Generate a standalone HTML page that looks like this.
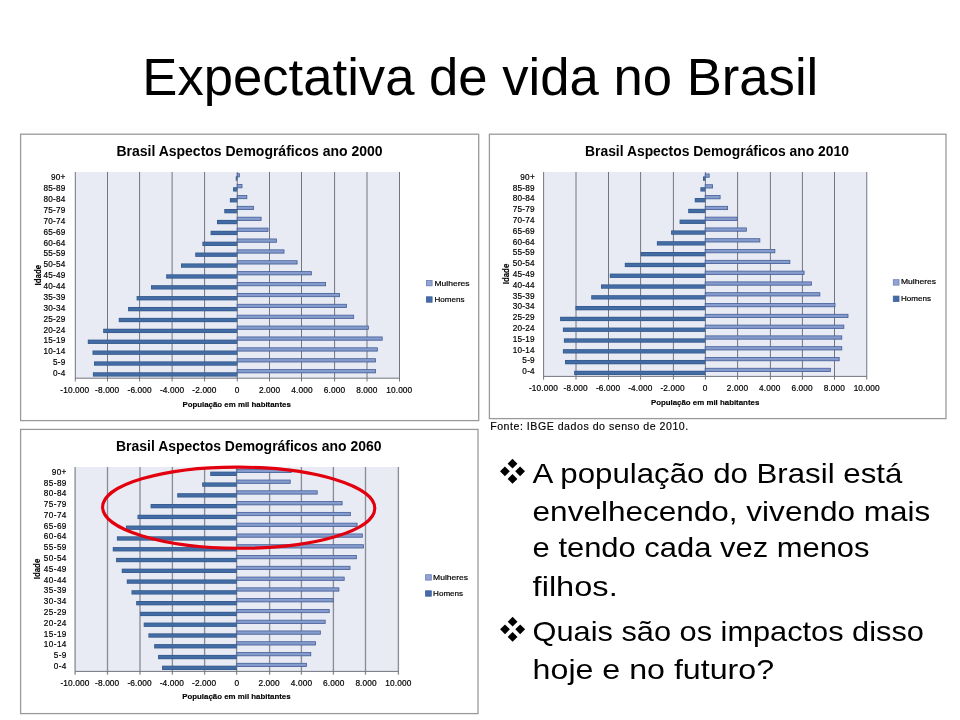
<!DOCTYPE html>
<html lang="pt"><head><meta charset="utf-8"><title>Expectativa de vida no Brasil</title>
<style>html,body{margin:0;padding:0;background:#fff;}body{width:960px;height:720px;overflow:hidden;font-family:"Liberation Sans",sans-serif;}svg{display:block;will-change:transform;}text{font-family:"Liberation Sans",sans-serif;fill:#000;}</style></head><body>
<svg width="960" height="720" viewBox="0 0 960 720">
<defs><linearGradient id="lg" x1="0" y1="0" x2="0" y2="1"><stop offset="0" stop-color="#8ba1d4"/><stop offset="1" stop-color="#8295c5"/></linearGradient></defs>
<rect width="960" height="720" fill="#fff"/>
<text x="142.3" y="95.2" font-size="52.4" textLength="676" lengthAdjust="spacingAndGlyphs">Expectativa de vida no Brasil</text>
<g id="chart2000">
<rect x="20.6" y="134.2" width="458.1" height="286.4" fill="#fff" stroke="#9a9a9a" stroke-width="1.3"/>
<rect x="75.1" y="172.0" width="324.2" height="206.2" fill="#e8ebf4"/>
<line x1="75.30" y1="172.0" x2="75.30" y2="381.5" stroke="#72767f" stroke-width="1"/>
<line x1="107.50" y1="172.0" x2="107.50" y2="381.5" stroke="#72767f" stroke-width="1"/>
<line x1="139.60" y1="172.0" x2="139.60" y2="381.5" stroke="#72767f" stroke-width="1"/>
<line x1="172.10" y1="172.0" x2="172.10" y2="381.5" stroke="#72767f" stroke-width="1"/>
<line x1="204.60" y1="172.0" x2="204.60" y2="381.5" stroke="#72767f" stroke-width="1"/>
<line x1="237.25" y1="172.0" x2="237.25" y2="381.5" stroke="#72767f" stroke-width="1"/>
<line x1="269.50" y1="172.0" x2="269.50" y2="381.5" stroke="#72767f" stroke-width="1"/>
<line x1="301.50" y1="172.0" x2="301.50" y2="381.5" stroke="#72767f" stroke-width="1"/>
<line x1="334.60" y1="172.0" x2="334.60" y2="381.5" stroke="#72767f" stroke-width="1"/>
<line x1="367.00" y1="172.0" x2="367.00" y2="381.5" stroke="#72767f" stroke-width="1"/>
<line x1="399.50" y1="172.0" x2="399.50" y2="381.5" stroke="#72767f" stroke-width="1"/>
<rect x="235.75" y="176.35" width="1.45" height="4.3" fill="#325789"/>
<rect x="236.35" y="177.05" width="0.85" height="2.9" fill="#436ca5"/>
<rect x="237.20" y="173.65" width="2.15" height="3.3" fill="url(#lg)" stroke="#415d96" stroke-width="0.8"/>
<rect x="233.10" y="187.23" width="4.10" height="4.3" fill="#325789"/>
<rect x="233.70" y="187.94" width="3.50" height="2.9" fill="#436ca5"/>
<rect x="237.20" y="184.53" width="4.80" height="3.3" fill="url(#lg)" stroke="#415d96" stroke-width="0.8"/>
<rect x="229.90" y="198.12" width="7.30" height="4.3" fill="#325789"/>
<rect x="230.50" y="198.82" width="6.70" height="2.9" fill="#436ca5"/>
<rect x="237.20" y="195.42" width="9.65" height="3.3" fill="url(#lg)" stroke="#415d96" stroke-width="0.8"/>
<rect x="224.30" y="209.00" width="12.90" height="4.3" fill="#325789"/>
<rect x="224.90" y="209.71" width="12.30" height="2.9" fill="#436ca5"/>
<rect x="237.20" y="206.31" width="16.40" height="3.3" fill="url(#lg)" stroke="#415d96" stroke-width="0.8"/>
<rect x="217.00" y="219.89" width="20.20" height="4.3" fill="#325789"/>
<rect x="217.60" y="220.59" width="19.60" height="2.9" fill="#436ca5"/>
<rect x="237.20" y="217.19" width="23.90" height="3.3" fill="url(#lg)" stroke="#415d96" stroke-width="0.8"/>
<rect x="210.60" y="230.78" width="26.60" height="4.3" fill="#325789"/>
<rect x="211.20" y="231.48" width="26.00" height="2.9" fill="#436ca5"/>
<rect x="237.20" y="228.08" width="30.80" height="3.3" fill="url(#lg)" stroke="#415d96" stroke-width="0.8"/>
<rect x="202.40" y="241.66" width="34.80" height="4.3" fill="#325789"/>
<rect x="203.00" y="242.36" width="34.20" height="2.9" fill="#436ca5"/>
<rect x="237.20" y="238.96" width="39.30" height="3.3" fill="url(#lg)" stroke="#415d96" stroke-width="0.8"/>
<rect x="195.25" y="252.54" width="41.95" height="4.3" fill="#325789"/>
<rect x="195.85" y="253.25" width="41.35" height="2.9" fill="#436ca5"/>
<rect x="237.20" y="249.84" width="46.80" height="3.3" fill="url(#lg)" stroke="#415d96" stroke-width="0.8"/>
<rect x="181.00" y="263.43" width="56.20" height="4.3" fill="#325789"/>
<rect x="181.60" y="264.13" width="55.60" height="2.9" fill="#436ca5"/>
<rect x="237.20" y="260.73" width="59.90" height="3.3" fill="url(#lg)" stroke="#415d96" stroke-width="0.8"/>
<rect x="166.20" y="274.32" width="71.00" height="4.3" fill="#325789"/>
<rect x="166.80" y="275.02" width="70.40" height="2.9" fill="#436ca5"/>
<rect x="237.20" y="271.62" width="74.15" height="3.3" fill="url(#lg)" stroke="#415d96" stroke-width="0.8"/>
<rect x="151.00" y="285.20" width="86.20" height="4.3" fill="#325789"/>
<rect x="151.60" y="285.90" width="85.60" height="2.9" fill="#436ca5"/>
<rect x="237.20" y="282.50" width="88.40" height="3.3" fill="url(#lg)" stroke="#415d96" stroke-width="0.8"/>
<rect x="136.60" y="296.09" width="100.60" height="4.3" fill="#325789"/>
<rect x="137.20" y="296.79" width="100.00" height="2.9" fill="#436ca5"/>
<rect x="237.20" y="293.39" width="102.30" height="3.3" fill="url(#lg)" stroke="#415d96" stroke-width="0.8"/>
<rect x="128.10" y="306.97" width="109.10" height="4.3" fill="#325789"/>
<rect x="128.70" y="307.67" width="108.50" height="2.9" fill="#436ca5"/>
<rect x="237.20" y="304.27" width="109.20" height="3.3" fill="url(#lg)" stroke="#415d96" stroke-width="0.8"/>
<rect x="118.75" y="317.86" width="118.45" height="4.3" fill="#325789"/>
<rect x="119.35" y="318.56" width="117.85" height="2.9" fill="#436ca5"/>
<rect x="237.20" y="315.16" width="116.50" height="3.3" fill="url(#lg)" stroke="#415d96" stroke-width="0.8"/>
<rect x="103.20" y="328.74" width="134.00" height="4.3" fill="#325789"/>
<rect x="103.80" y="329.44" width="133.40" height="2.9" fill="#436ca5"/>
<rect x="237.20" y="326.04" width="131.15" height="3.3" fill="url(#lg)" stroke="#415d96" stroke-width="0.8"/>
<rect x="87.80" y="339.62" width="149.40" height="4.3" fill="#325789"/>
<rect x="88.40" y="340.32" width="148.80" height="2.9" fill="#436ca5"/>
<rect x="237.20" y="336.93" width="145.00" height="3.3" fill="url(#lg)" stroke="#415d96" stroke-width="0.8"/>
<rect x="92.50" y="350.51" width="144.70" height="4.3" fill="#325789"/>
<rect x="93.10" y="351.21" width="144.10" height="2.9" fill="#436ca5"/>
<rect x="237.20" y="347.81" width="140.15" height="3.3" fill="url(#lg)" stroke="#415d96" stroke-width="0.8"/>
<rect x="94.00" y="361.39" width="143.20" height="4.3" fill="#325789"/>
<rect x="94.60" y="362.09" width="142.60" height="2.9" fill="#436ca5"/>
<rect x="237.20" y="358.70" width="138.30" height="3.3" fill="url(#lg)" stroke="#415d96" stroke-width="0.8"/>
<rect x="92.90" y="372.28" width="144.30" height="4.3" fill="#325789"/>
<rect x="93.50" y="372.98" width="143.70" height="2.9" fill="#436ca5"/>
<rect x="237.20" y="369.58" width="138.30" height="3.3" fill="url(#lg)" stroke="#415d96" stroke-width="0.8"/>
<line x1="75.1" y1="378.2" x2="399.3" y2="378.2" stroke="#72767f" stroke-width="1"/>
<text x="65.50" y="180.20" font-size="8.2" letter-spacing="0.2" text-anchor="end" stroke="#000" stroke-width="0.2">90+</text>
<text x="65.50" y="191.09" font-size="8.2" letter-spacing="0.2" text-anchor="end" stroke="#000" stroke-width="0.2">85-89</text>
<text x="65.50" y="201.97" font-size="8.2" letter-spacing="0.2" text-anchor="end" stroke="#000" stroke-width="0.2">80-84</text>
<text x="65.50" y="212.86" font-size="8.2" letter-spacing="0.2" text-anchor="end" stroke="#000" stroke-width="0.2">75-79</text>
<text x="65.50" y="223.74" font-size="8.2" letter-spacing="0.2" text-anchor="end" stroke="#000" stroke-width="0.2">70-74</text>
<text x="65.50" y="234.63" font-size="8.2" letter-spacing="0.2" text-anchor="end" stroke="#000" stroke-width="0.2">65-69</text>
<text x="65.50" y="245.51" font-size="8.2" letter-spacing="0.2" text-anchor="end" stroke="#000" stroke-width="0.2">60-64</text>
<text x="65.50" y="256.39" font-size="8.2" letter-spacing="0.2" text-anchor="end" stroke="#000" stroke-width="0.2">55-59</text>
<text x="65.50" y="267.28" font-size="8.2" letter-spacing="0.2" text-anchor="end" stroke="#000" stroke-width="0.2">50-54</text>
<text x="65.50" y="278.16" font-size="8.2" letter-spacing="0.2" text-anchor="end" stroke="#000" stroke-width="0.2">45-49</text>
<text x="65.50" y="289.05" font-size="8.2" letter-spacing="0.2" text-anchor="end" stroke="#000" stroke-width="0.2">40-44</text>
<text x="65.50" y="299.94" font-size="8.2" letter-spacing="0.2" text-anchor="end" stroke="#000" stroke-width="0.2">35-39</text>
<text x="65.50" y="310.82" font-size="8.2" letter-spacing="0.2" text-anchor="end" stroke="#000" stroke-width="0.2">30-34</text>
<text x="65.50" y="321.70" font-size="8.2" letter-spacing="0.2" text-anchor="end" stroke="#000" stroke-width="0.2">25-29</text>
<text x="65.50" y="332.59" font-size="8.2" letter-spacing="0.2" text-anchor="end" stroke="#000" stroke-width="0.2">20-24</text>
<text x="65.50" y="343.48" font-size="8.2" letter-spacing="0.2" text-anchor="end" stroke="#000" stroke-width="0.2">15-19</text>
<text x="65.50" y="354.36" font-size="8.2" letter-spacing="0.2" text-anchor="end" stroke="#000" stroke-width="0.2">10-14</text>
<text x="65.50" y="365.25" font-size="8.2" letter-spacing="0.2" text-anchor="end" stroke="#000" stroke-width="0.2">5-9</text>
<text x="65.50" y="376.13" font-size="8.2" letter-spacing="0.2" text-anchor="end" stroke="#000" stroke-width="0.2">0-4</text>
<text x="74.80" y="392.8" font-size="8.3" letter-spacing="0.12" text-anchor="middle" stroke="#000" stroke-width="0.2">-10.000</text>
<text x="107.22" y="392.8" font-size="8.3" letter-spacing="0.12" text-anchor="middle" stroke="#000" stroke-width="0.2">-8.000</text>
<text x="139.64" y="392.8" font-size="8.3" letter-spacing="0.12" text-anchor="middle" stroke="#000" stroke-width="0.2">-6.000</text>
<text x="172.06" y="392.8" font-size="8.3" letter-spacing="0.12" text-anchor="middle" stroke="#000" stroke-width="0.2">-4.000</text>
<text x="204.48" y="392.8" font-size="8.3" letter-spacing="0.12" text-anchor="middle" stroke="#000" stroke-width="0.2">-2.000</text>
<text x="237.20" y="392.8" font-size="8.3" letter-spacing="0.12" text-anchor="middle" stroke="#000" stroke-width="0.2">0</text>
<text x="269.62" y="392.8" font-size="8.3" letter-spacing="0.12" text-anchor="middle" stroke="#000" stroke-width="0.2">2.000</text>
<text x="302.04" y="392.8" font-size="8.3" letter-spacing="0.12" text-anchor="middle" stroke="#000" stroke-width="0.2">4.000</text>
<text x="334.46" y="392.8" font-size="8.3" letter-spacing="0.12" text-anchor="middle" stroke="#000" stroke-width="0.2">6.000</text>
<text x="366.88" y="392.8" font-size="8.3" letter-spacing="0.12" text-anchor="middle" stroke="#000" stroke-width="0.2">8.000</text>
<text x="399.30" y="392.8" font-size="8.3" letter-spacing="0.12" text-anchor="middle" stroke="#000" stroke-width="0.2">10.000</text>
<text x="116.4" y="156.0" font-size="14.1" font-weight="bold" textLength="266.2" lengthAdjust="spacingAndGlyphs">Brasil Aspectos Demográficos ano 2000</text>
<text x="182.4" y="407.2" font-size="8" font-weight="bold" textLength="108.4" lengthAdjust="spacingAndGlyphs" stroke="#000" stroke-width="0.15">População em mil habitantes</text>
<text transform="translate(40.6,285.5) rotate(-90)" font-size="8.6" font-weight="bold" stroke="#000" stroke-width="0.15" textLength="20.6" lengthAdjust="spacingAndGlyphs">Idade</text>
<rect x="426.4" y="280.4" width="5.7" height="5.4" fill="#93a3d6" stroke="#6a7fb3" stroke-width="0.8"/>
<text x="434.5" y="285.9" font-size="8" textLength="35" lengthAdjust="spacingAndGlyphs" stroke="#000" stroke-width="0.2">Mulheres</text>
<rect x="426.4" y="296.79999999999995" width="5.7" height="5.4" fill="#466aa8" stroke="#3c5f9a" stroke-width="0.8"/>
<text x="434.5" y="302.3" font-size="8" textLength="30" lengthAdjust="spacingAndGlyphs" stroke="#000" stroke-width="0.2">Homens</text>
</g>
<g id="chart2010">
<rect x="489.4" y="134.2" width="456.6" height="284.4" fill="#fff" stroke="#9a9a9a" stroke-width="1.3"/>
<rect x="543.7" y="172.0" width="323.0" height="204.4" fill="#e8ebf4"/>
<line x1="543.60" y1="172.0" x2="543.60" y2="379.7" stroke="#72767f" stroke-width="1"/>
<line x1="576.00" y1="172.0" x2="576.00" y2="379.7" stroke="#72767f" stroke-width="1"/>
<line x1="608.50" y1="172.0" x2="608.50" y2="379.7" stroke="#72767f" stroke-width="1"/>
<line x1="640.60" y1="172.0" x2="640.60" y2="379.7" stroke="#72767f" stroke-width="1"/>
<line x1="673.40" y1="172.0" x2="673.40" y2="379.7" stroke="#72767f" stroke-width="1"/>
<line x1="705.40" y1="172.0" x2="705.40" y2="379.7" stroke="#72767f" stroke-width="1"/>
<line x1="737.60" y1="172.0" x2="737.60" y2="379.7" stroke="#72767f" stroke-width="1"/>
<line x1="770.40" y1="172.0" x2="770.40" y2="379.7" stroke="#72767f" stroke-width="1"/>
<line x1="802.40" y1="172.0" x2="802.40" y2="379.7" stroke="#72767f" stroke-width="1"/>
<line x1="834.50" y1="172.0" x2="834.50" y2="379.7" stroke="#72767f" stroke-width="1"/>
<line x1="866.75" y1="172.0" x2="866.75" y2="379.7" stroke="#72767f" stroke-width="1"/>
<rect x="703.00" y="176.45" width="2.20" height="4.3" fill="#325789"/>
<rect x="703.60" y="177.15" width="1.60" height="2.9" fill="#436ca5"/>
<rect x="705.20" y="173.95" width="4.00" height="3.3" fill="url(#lg)" stroke="#415d96" stroke-width="0.8"/>
<rect x="700.40" y="187.24" width="4.80" height="4.3" fill="#325789"/>
<rect x="701.00" y="187.94" width="4.20" height="2.9" fill="#436ca5"/>
<rect x="705.20" y="184.74" width="7.40" height="3.3" fill="url(#lg)" stroke="#415d96" stroke-width="0.8"/>
<rect x="694.75" y="198.04" width="10.45" height="4.3" fill="#325789"/>
<rect x="695.35" y="198.74" width="9.85" height="2.9" fill="#436ca5"/>
<rect x="705.20" y="195.54" width="14.90" height="3.3" fill="url(#lg)" stroke="#415d96" stroke-width="0.8"/>
<rect x="688.20" y="208.83" width="17.00" height="4.3" fill="#325789"/>
<rect x="688.80" y="209.53" width="16.40" height="2.9" fill="#436ca5"/>
<rect x="705.20" y="206.33" width="22.40" height="3.3" fill="url(#lg)" stroke="#415d96" stroke-width="0.8"/>
<rect x="679.60" y="219.63" width="25.60" height="4.3" fill="#325789"/>
<rect x="680.20" y="220.33" width="25.00" height="2.9" fill="#436ca5"/>
<rect x="705.20" y="217.13" width="32.00" height="3.3" fill="url(#lg)" stroke="#415d96" stroke-width="0.8"/>
<rect x="671.10" y="230.42" width="34.10" height="4.3" fill="#325789"/>
<rect x="671.70" y="231.12" width="33.50" height="2.9" fill="#436ca5"/>
<rect x="705.20" y="227.92" width="41.15" height="3.3" fill="url(#lg)" stroke="#415d96" stroke-width="0.8"/>
<rect x="656.90" y="241.22" width="48.30" height="4.3" fill="#325789"/>
<rect x="657.50" y="241.92" width="47.70" height="2.9" fill="#436ca5"/>
<rect x="705.20" y="238.72" width="54.65" height="3.3" fill="url(#lg)" stroke="#415d96" stroke-width="0.8"/>
<rect x="640.75" y="252.01" width="64.45" height="4.3" fill="#325789"/>
<rect x="641.35" y="252.72" width="63.85" height="2.9" fill="#436ca5"/>
<rect x="705.20" y="249.51" width="69.65" height="3.3" fill="url(#lg)" stroke="#415d96" stroke-width="0.8"/>
<rect x="624.80" y="262.81" width="80.40" height="4.3" fill="#325789"/>
<rect x="625.40" y="263.51" width="79.80" height="2.9" fill="#436ca5"/>
<rect x="705.20" y="260.31" width="84.65" height="3.3" fill="url(#lg)" stroke="#415d96" stroke-width="0.8"/>
<rect x="609.80" y="273.61" width="95.40" height="4.3" fill="#325789"/>
<rect x="610.40" y="274.31" width="94.80" height="2.9" fill="#436ca5"/>
<rect x="705.20" y="271.11" width="98.90" height="3.3" fill="url(#lg)" stroke="#415d96" stroke-width="0.8"/>
<rect x="601.00" y="284.40" width="104.20" height="4.3" fill="#325789"/>
<rect x="601.60" y="285.10" width="103.60" height="2.9" fill="#436ca5"/>
<rect x="705.20" y="281.90" width="106.20" height="3.3" fill="url(#lg)" stroke="#415d96" stroke-width="0.8"/>
<rect x="591.25" y="295.20" width="113.95" height="4.3" fill="#325789"/>
<rect x="591.85" y="295.90" width="113.35" height="2.9" fill="#436ca5"/>
<rect x="705.20" y="292.70" width="114.65" height="3.3" fill="url(#lg)" stroke="#415d96" stroke-width="0.8"/>
<rect x="575.50" y="305.99" width="129.70" height="4.3" fill="#325789"/>
<rect x="576.10" y="306.69" width="129.10" height="2.9" fill="#436ca5"/>
<rect x="705.20" y="303.49" width="129.80" height="3.3" fill="url(#lg)" stroke="#415d96" stroke-width="0.8"/>
<rect x="560.10" y="316.79" width="145.10" height="4.3" fill="#325789"/>
<rect x="560.70" y="317.49" width="144.50" height="2.9" fill="#436ca5"/>
<rect x="705.20" y="314.29" width="142.80" height="3.3" fill="url(#lg)" stroke="#415d96" stroke-width="0.8"/>
<rect x="562.90" y="327.58" width="142.30" height="4.3" fill="#325789"/>
<rect x="563.50" y="328.28" width="141.70" height="2.9" fill="#436ca5"/>
<rect x="705.20" y="325.08" width="138.65" height="3.3" fill="url(#lg)" stroke="#415d96" stroke-width="0.8"/>
<rect x="563.90" y="338.38" width="141.30" height="4.3" fill="#325789"/>
<rect x="564.50" y="339.07" width="140.70" height="2.9" fill="#436ca5"/>
<rect x="705.20" y="335.88" width="136.60" height="3.3" fill="url(#lg)" stroke="#415d96" stroke-width="0.8"/>
<rect x="562.90" y="349.17" width="142.30" height="4.3" fill="#325789"/>
<rect x="563.50" y="349.87" width="141.70" height="2.9" fill="#436ca5"/>
<rect x="705.20" y="346.67" width="136.60" height="3.3" fill="url(#lg)" stroke="#415d96" stroke-width="0.8"/>
<rect x="565.00" y="359.97" width="140.20" height="4.3" fill="#325789"/>
<rect x="565.60" y="360.67" width="139.60" height="2.9" fill="#436ca5"/>
<rect x="705.20" y="357.47" width="134.00" height="3.3" fill="url(#lg)" stroke="#415d96" stroke-width="0.8"/>
<rect x="574.20" y="370.76" width="131.00" height="4.3" fill="#325789"/>
<rect x="574.80" y="371.46" width="130.40" height="2.9" fill="#436ca5"/>
<rect x="705.20" y="368.26" width="125.15" height="3.3" fill="url(#lg)" stroke="#415d96" stroke-width="0.8"/>
<line x1="543.7" y1="376.4" x2="866.7" y2="376.4" stroke="#72767f" stroke-width="1"/>
<text x="534.95" y="179.80" font-size="8.2" letter-spacing="0.25" text-anchor="end" stroke="#000" stroke-width="0.2">90+</text>
<text x="534.95" y="190.59" font-size="8.2" letter-spacing="0.25" text-anchor="end" stroke="#000" stroke-width="0.2">85-89</text>
<text x="534.95" y="201.39" font-size="8.2" letter-spacing="0.25" text-anchor="end" stroke="#000" stroke-width="0.2">80-84</text>
<text x="534.95" y="212.19" font-size="8.2" letter-spacing="0.25" text-anchor="end" stroke="#000" stroke-width="0.2">75-79</text>
<text x="534.95" y="222.98" font-size="8.2" letter-spacing="0.25" text-anchor="end" stroke="#000" stroke-width="0.2">70-74</text>
<text x="534.95" y="233.78" font-size="8.2" letter-spacing="0.25" text-anchor="end" stroke="#000" stroke-width="0.2">65-69</text>
<text x="534.95" y="244.57" font-size="8.2" letter-spacing="0.25" text-anchor="end" stroke="#000" stroke-width="0.2">60-64</text>
<text x="534.95" y="255.37" font-size="8.2" letter-spacing="0.25" text-anchor="end" stroke="#000" stroke-width="0.2">55-59</text>
<text x="534.95" y="266.16" font-size="8.2" letter-spacing="0.25" text-anchor="end" stroke="#000" stroke-width="0.2">50-54</text>
<text x="534.95" y="276.95" font-size="8.2" letter-spacing="0.25" text-anchor="end" stroke="#000" stroke-width="0.2">45-49</text>
<text x="534.95" y="287.75" font-size="8.2" letter-spacing="0.25" text-anchor="end" stroke="#000" stroke-width="0.2">40-44</text>
<text x="534.95" y="298.55" font-size="8.2" letter-spacing="0.25" text-anchor="end" stroke="#000" stroke-width="0.2">35-39</text>
<text x="534.95" y="309.34" font-size="8.2" letter-spacing="0.25" text-anchor="end" stroke="#000" stroke-width="0.2">30-34</text>
<text x="534.95" y="320.13" font-size="8.2" letter-spacing="0.25" text-anchor="end" stroke="#000" stroke-width="0.2">25-29</text>
<text x="534.95" y="330.93" font-size="8.2" letter-spacing="0.25" text-anchor="end" stroke="#000" stroke-width="0.2">20-24</text>
<text x="534.95" y="341.72" font-size="8.2" letter-spacing="0.25" text-anchor="end" stroke="#000" stroke-width="0.2">15-19</text>
<text x="534.95" y="352.52" font-size="8.2" letter-spacing="0.25" text-anchor="end" stroke="#000" stroke-width="0.2">10-14</text>
<text x="534.95" y="363.31" font-size="8.2" letter-spacing="0.25" text-anchor="end" stroke="#000" stroke-width="0.2">5-9</text>
<text x="534.95" y="374.11" font-size="8.2" letter-spacing="0.25" text-anchor="end" stroke="#000" stroke-width="0.2">0-4</text>
<text x="543.40" y="390.7" font-size="8.3" letter-spacing="0.12" text-anchor="middle" stroke="#000" stroke-width="0.2">-10.000</text>
<text x="575.70" y="390.7" font-size="8.3" letter-spacing="0.12" text-anchor="middle" stroke="#000" stroke-width="0.2">-8.000</text>
<text x="608.00" y="390.7" font-size="8.3" letter-spacing="0.12" text-anchor="middle" stroke="#000" stroke-width="0.2">-6.000</text>
<text x="640.30" y="390.7" font-size="8.3" letter-spacing="0.12" text-anchor="middle" stroke="#000" stroke-width="0.2">-4.000</text>
<text x="672.60" y="390.7" font-size="8.3" letter-spacing="0.12" text-anchor="middle" stroke="#000" stroke-width="0.2">-2.000</text>
<text x="705.20" y="390.7" font-size="8.3" letter-spacing="0.12" text-anchor="middle" stroke="#000" stroke-width="0.2">0</text>
<text x="737.50" y="390.7" font-size="8.3" letter-spacing="0.12" text-anchor="middle" stroke="#000" stroke-width="0.2">2.000</text>
<text x="769.80" y="390.7" font-size="8.3" letter-spacing="0.12" text-anchor="middle" stroke="#000" stroke-width="0.2">4.000</text>
<text x="802.10" y="390.7" font-size="8.3" letter-spacing="0.12" text-anchor="middle" stroke="#000" stroke-width="0.2">6.000</text>
<text x="834.40" y="390.7" font-size="8.3" letter-spacing="0.12" text-anchor="middle" stroke="#000" stroke-width="0.2">8.000</text>
<text x="866.70" y="390.7" font-size="8.3" letter-spacing="0.12" text-anchor="middle" stroke="#000" stroke-width="0.2">10.000</text>
<text x="585.0" y="156.0" font-size="14.1" font-weight="bold" textLength="264.0" lengthAdjust="spacingAndGlyphs">Brasil Aspectos Demográficos ano 2010</text>
<text x="650.9" y="404.5" font-size="8" font-weight="bold" textLength="108.4" lengthAdjust="spacingAndGlyphs" stroke="#000" stroke-width="0.15">População em mil habitantes</text>
<text transform="translate(509.1,284.3) rotate(-90)" font-size="8.6" font-weight="bold" stroke="#000" stroke-width="0.15" textLength="20.6" lengthAdjust="spacingAndGlyphs">Idade</text>
<rect x="893.3000000000001" y="279.7" width="5.7" height="5.4" fill="#93a3d6" stroke="#6a7fb3" stroke-width="0.8"/>
<text x="901.0" y="284.2" font-size="8" textLength="35" lengthAdjust="spacingAndGlyphs" stroke="#000" stroke-width="0.2">Mulheres</text>
<rect x="893.3000000000001" y="296.09999999999997" width="5.7" height="5.4" fill="#466aa8" stroke="#3c5f9a" stroke-width="0.8"/>
<text x="901.0" y="300.6" font-size="8" textLength="30" lengthAdjust="spacingAndGlyphs" stroke="#000" stroke-width="0.2">Homens</text>
</g>
<g id="chart2060">
<rect x="20.6" y="429.4" width="457.4" height="284.2" fill="#fff" stroke="#9a9a9a" stroke-width="1.3"/>
<rect x="75.2" y="467.0" width="323.2" height="204.4" fill="#e8ebf4"/>
<line x1="75.10" y1="467.0" x2="75.10" y2="674.7" stroke="#8a8d97" stroke-width="1.35"/>
<line x1="107.50" y1="467.0" x2="107.50" y2="674.7" stroke="#8a8d97" stroke-width="1.35"/>
<line x1="140.00" y1="467.0" x2="140.00" y2="674.7" stroke="#8a8d97" stroke-width="1.35"/>
<line x1="172.40" y1="467.0" x2="172.40" y2="674.7" stroke="#8a8d97" stroke-width="1.35"/>
<line x1="204.60" y1="467.0" x2="204.60" y2="674.7" stroke="#8a8d97" stroke-width="1.35"/>
<line x1="236.60" y1="467.0" x2="236.60" y2="674.7" stroke="#8a8d97" stroke-width="1.35"/>
<line x1="269.60" y1="467.0" x2="269.60" y2="674.7" stroke="#8a8d97" stroke-width="1.35"/>
<line x1="301.40" y1="467.0" x2="301.40" y2="674.7" stroke="#8a8d97" stroke-width="1.35"/>
<line x1="333.40" y1="467.0" x2="333.40" y2="674.7" stroke="#8a8d97" stroke-width="1.35"/>
<line x1="365.50" y1="467.0" x2="365.50" y2="674.7" stroke="#8a8d97" stroke-width="1.35"/>
<line x1="398.40" y1="467.0" x2="398.40" y2="674.7" stroke="#8a8d97" stroke-width="1.35"/>
<rect x="210.25" y="471.65" width="26.55" height="4.3" fill="#325789"/>
<rect x="210.85" y="472.35" width="25.95" height="2.9" fill="#436ca5"/>
<rect x="236.80" y="469.25" width="54.70" height="3.3" fill="url(#lg)" stroke="#415d96" stroke-width="0.8"/>
<rect x="202.20" y="482.43" width="34.60" height="4.3" fill="#325789"/>
<rect x="202.80" y="483.13" width="34.00" height="2.9" fill="#436ca5"/>
<rect x="236.80" y="480.03" width="53.40" height="3.3" fill="url(#lg)" stroke="#415d96" stroke-width="0.8"/>
<rect x="177.25" y="493.21" width="59.55" height="4.3" fill="#325789"/>
<rect x="177.85" y="493.91" width="58.95" height="2.9" fill="#436ca5"/>
<rect x="236.80" y="490.81" width="80.40" height="3.3" fill="url(#lg)" stroke="#415d96" stroke-width="0.8"/>
<rect x="150.60" y="503.99" width="86.20" height="4.3" fill="#325789"/>
<rect x="151.20" y="504.69" width="85.60" height="2.9" fill="#436ca5"/>
<rect x="236.80" y="501.59" width="105.30" height="3.3" fill="url(#lg)" stroke="#415d96" stroke-width="0.8"/>
<rect x="137.50" y="514.77" width="99.30" height="4.3" fill="#325789"/>
<rect x="138.10" y="515.47" width="98.70" height="2.9" fill="#436ca5"/>
<rect x="236.80" y="512.37" width="113.55" height="3.3" fill="url(#lg)" stroke="#415d96" stroke-width="0.8"/>
<rect x="125.90" y="525.55" width="110.90" height="4.3" fill="#325789"/>
<rect x="126.50" y="526.25" width="110.30" height="2.9" fill="#436ca5"/>
<rect x="236.80" y="523.15" width="120.30" height="3.3" fill="url(#lg)" stroke="#415d96" stroke-width="0.8"/>
<rect x="116.90" y="536.33" width="119.90" height="4.3" fill="#325789"/>
<rect x="117.50" y="537.03" width="119.30" height="2.9" fill="#436ca5"/>
<rect x="236.80" y="533.93" width="125.55" height="3.3" fill="url(#lg)" stroke="#415d96" stroke-width="0.8"/>
<rect x="112.75" y="547.11" width="124.05" height="4.3" fill="#325789"/>
<rect x="113.35" y="547.81" width="123.45" height="2.9" fill="#436ca5"/>
<rect x="236.80" y="544.71" width="126.70" height="3.3" fill="url(#lg)" stroke="#415d96" stroke-width="0.8"/>
<rect x="116.10" y="557.89" width="120.70" height="4.3" fill="#325789"/>
<rect x="116.70" y="558.59" width="120.10" height="2.9" fill="#436ca5"/>
<rect x="236.80" y="555.49" width="119.55" height="3.3" fill="url(#lg)" stroke="#415d96" stroke-width="0.8"/>
<rect x="121.75" y="568.67" width="115.05" height="4.3" fill="#325789"/>
<rect x="122.35" y="569.37" width="114.45" height="2.9" fill="#436ca5"/>
<rect x="236.80" y="566.27" width="113.20" height="3.3" fill="url(#lg)" stroke="#415d96" stroke-width="0.8"/>
<rect x="126.80" y="579.45" width="110.00" height="4.3" fill="#325789"/>
<rect x="127.40" y="580.15" width="109.40" height="2.9" fill="#436ca5"/>
<rect x="236.80" y="577.05" width="107.40" height="3.3" fill="url(#lg)" stroke="#415d96" stroke-width="0.8"/>
<rect x="131.50" y="590.23" width="105.30" height="4.3" fill="#325789"/>
<rect x="132.10" y="590.93" width="104.70" height="2.9" fill="#436ca5"/>
<rect x="236.80" y="587.83" width="102.10" height="3.3" fill="url(#lg)" stroke="#415d96" stroke-width="0.8"/>
<rect x="136.20" y="601.01" width="100.60" height="4.3" fill="#325789"/>
<rect x="136.80" y="601.71" width="100.00" height="2.9" fill="#436ca5"/>
<rect x="236.80" y="598.61" width="96.30" height="3.3" fill="url(#lg)" stroke="#415d96" stroke-width="0.8"/>
<rect x="140.10" y="611.79" width="96.70" height="4.3" fill="#325789"/>
<rect x="140.70" y="612.49" width="96.10" height="2.9" fill="#436ca5"/>
<rect x="236.80" y="609.39" width="92.40" height="3.3" fill="url(#lg)" stroke="#415d96" stroke-width="0.8"/>
<rect x="143.70" y="622.57" width="93.10" height="4.3" fill="#325789"/>
<rect x="144.30" y="623.27" width="92.50" height="2.9" fill="#436ca5"/>
<rect x="236.80" y="620.17" width="88.40" height="3.3" fill="url(#lg)" stroke="#415d96" stroke-width="0.8"/>
<rect x="148.40" y="633.35" width="88.40" height="4.3" fill="#325789"/>
<rect x="149.00" y="634.05" width="87.80" height="2.9" fill="#436ca5"/>
<rect x="236.80" y="630.95" width="83.55" height="3.3" fill="url(#lg)" stroke="#415d96" stroke-width="0.8"/>
<rect x="154.20" y="644.13" width="82.60" height="4.3" fill="#325789"/>
<rect x="154.80" y="644.83" width="82.00" height="2.9" fill="#436ca5"/>
<rect x="236.80" y="641.73" width="78.70" height="3.3" fill="url(#lg)" stroke="#415d96" stroke-width="0.8"/>
<rect x="158.10" y="654.91" width="78.70" height="4.3" fill="#325789"/>
<rect x="158.70" y="655.61" width="78.10" height="2.9" fill="#436ca5"/>
<rect x="236.80" y="652.51" width="74.00" height="3.3" fill="url(#lg)" stroke="#415d96" stroke-width="0.8"/>
<rect x="162.10" y="665.69" width="74.70" height="4.3" fill="#325789"/>
<rect x="162.70" y="666.39" width="74.10" height="2.9" fill="#436ca5"/>
<rect x="236.80" y="663.29" width="69.70" height="3.3" fill="url(#lg)" stroke="#415d96" stroke-width="0.8"/>
<line x1="75.2" y1="671.4" x2="398.4" y2="671.4" stroke="#72767f" stroke-width="1"/>
<text x="66.80" y="474.80" font-size="8.2" letter-spacing="0.4" text-anchor="end" stroke="#000" stroke-width="0.2">90+</text>
<text x="66.80" y="485.58" font-size="8.2" letter-spacing="0.4" text-anchor="end" stroke="#000" stroke-width="0.2">85-89</text>
<text x="66.80" y="496.36" font-size="8.2" letter-spacing="0.4" text-anchor="end" stroke="#000" stroke-width="0.2">80-84</text>
<text x="66.80" y="507.14" font-size="8.2" letter-spacing="0.4" text-anchor="end" stroke="#000" stroke-width="0.2">75-79</text>
<text x="66.80" y="517.92" font-size="8.2" letter-spacing="0.4" text-anchor="end" stroke="#000" stroke-width="0.2">70-74</text>
<text x="66.80" y="528.70" font-size="8.2" letter-spacing="0.4" text-anchor="end" stroke="#000" stroke-width="0.2">65-69</text>
<text x="66.80" y="539.48" font-size="8.2" letter-spacing="0.4" text-anchor="end" stroke="#000" stroke-width="0.2">60-64</text>
<text x="66.80" y="550.26" font-size="8.2" letter-spacing="0.4" text-anchor="end" stroke="#000" stroke-width="0.2">55-59</text>
<text x="66.80" y="561.04" font-size="8.2" letter-spacing="0.4" text-anchor="end" stroke="#000" stroke-width="0.2">50-54</text>
<text x="66.80" y="571.82" font-size="8.2" letter-spacing="0.4" text-anchor="end" stroke="#000" stroke-width="0.2">45-49</text>
<text x="66.80" y="582.60" font-size="8.2" letter-spacing="0.4" text-anchor="end" stroke="#000" stroke-width="0.2">40-44</text>
<text x="66.80" y="593.38" font-size="8.2" letter-spacing="0.4" text-anchor="end" stroke="#000" stroke-width="0.2">35-39</text>
<text x="66.80" y="604.16" font-size="8.2" letter-spacing="0.4" text-anchor="end" stroke="#000" stroke-width="0.2">30-34</text>
<text x="66.80" y="614.94" font-size="8.2" letter-spacing="0.4" text-anchor="end" stroke="#000" stroke-width="0.2">25-29</text>
<text x="66.80" y="625.72" font-size="8.2" letter-spacing="0.4" text-anchor="end" stroke="#000" stroke-width="0.2">20-24</text>
<text x="66.80" y="636.50" font-size="8.2" letter-spacing="0.4" text-anchor="end" stroke="#000" stroke-width="0.2">15-19</text>
<text x="66.80" y="647.28" font-size="8.2" letter-spacing="0.4" text-anchor="end" stroke="#000" stroke-width="0.2">10-14</text>
<text x="66.80" y="658.06" font-size="8.2" letter-spacing="0.4" text-anchor="end" stroke="#000" stroke-width="0.2">5-9</text>
<text x="66.80" y="668.84" font-size="8.2" letter-spacing="0.4" text-anchor="end" stroke="#000" stroke-width="0.2">0-4</text>
<text x="74.90" y="685.7" font-size="8.3" letter-spacing="0.12" text-anchor="middle" stroke="#000" stroke-width="0.2">-10.000</text>
<text x="107.22" y="685.7" font-size="8.3" letter-spacing="0.12" text-anchor="middle" stroke="#000" stroke-width="0.2">-8.000</text>
<text x="139.54" y="685.7" font-size="8.3" letter-spacing="0.12" text-anchor="middle" stroke="#000" stroke-width="0.2">-6.000</text>
<text x="171.86" y="685.7" font-size="8.3" letter-spacing="0.12" text-anchor="middle" stroke="#000" stroke-width="0.2">-4.000</text>
<text x="204.18" y="685.7" font-size="8.3" letter-spacing="0.12" text-anchor="middle" stroke="#000" stroke-width="0.2">-2.000</text>
<text x="236.80" y="685.7" font-size="8.3" letter-spacing="0.12" text-anchor="middle" stroke="#000" stroke-width="0.2">0</text>
<text x="269.12" y="685.7" font-size="8.3" letter-spacing="0.12" text-anchor="middle" stroke="#000" stroke-width="0.2">2.000</text>
<text x="301.44" y="685.7" font-size="8.3" letter-spacing="0.12" text-anchor="middle" stroke="#000" stroke-width="0.2">4.000</text>
<text x="333.76" y="685.7" font-size="8.3" letter-spacing="0.12" text-anchor="middle" stroke="#000" stroke-width="0.2">6.000</text>
<text x="366.08" y="685.7" font-size="8.3" letter-spacing="0.12" text-anchor="middle" stroke="#000" stroke-width="0.2">8.000</text>
<text x="398.40" y="685.7" font-size="8.3" letter-spacing="0.12" text-anchor="middle" stroke="#000" stroke-width="0.2">10.000</text>
<text x="116.0" y="451.0" font-size="14.1" font-weight="bold" textLength="265.5" lengthAdjust="spacingAndGlyphs">Brasil Aspectos Demográficos ano 2060</text>
<text x="182.2" y="699.0" font-size="8" font-weight="bold" textLength="108.4" lengthAdjust="spacingAndGlyphs" stroke="#000" stroke-width="0.15">População em mil habitantes</text>
<text transform="translate(40.4,579.3) rotate(-90)" font-size="8.6" font-weight="bold" stroke="#000" stroke-width="0.15" textLength="20.6" lengthAdjust="spacingAndGlyphs">Idade</text>
<rect x="425.59999999999997" y="574.6999999999999" width="5.7" height="5.4" fill="#93a3d6" stroke="#6a7fb3" stroke-width="0.8"/>
<text x="433.1" y="579.7" font-size="8" textLength="35" lengthAdjust="spacingAndGlyphs" stroke="#000" stroke-width="0.2">Mulheres</text>
<rect x="425.59999999999997" y="590.8" width="5.7" height="5.4" fill="#466aa8" stroke="#3c5f9a" stroke-width="0.8"/>
<text x="433.1" y="595.8" font-size="8" textLength="30" lengthAdjust="spacingAndGlyphs" stroke="#000" stroke-width="0.2">Homens</text>
</g>
<ellipse cx="238.7" cy="507.7" rx="136.1" ry="40.6" fill="none" stroke="#e3000e" stroke-width="3.1" transform="rotate(0.25 238.7 507.7)"/>
<text x="490.2" y="430.2" font-size="10.6" textLength="198" lengthAdjust="spacing" stroke="#000" stroke-width="0.15">Fonte: IBGE dados do senso de 2010.</text>
<path d="M512.5 458.8 L517.4 463.7 L512.5 468.6 L507.6 463.7 Z" fill="#000"/><path d="M512.5 474.0 L517.4 478.9 L512.5 483.8 L507.6 478.9 Z" fill="#000"/><path d="M504.9 466.4 L509.8 471.3 L504.9 476.2 L500.0 471.3 Z" fill="#000"/><path d="M520.1 466.4 L525.0 471.3 L520.1 476.2 L515.2 471.3 Z" fill="#000"/>
<path d="M512.6 616.8 L517.5 621.7 L512.6 626.6 L507.7 621.7 Z" fill="#000"/><path d="M512.6 632.0 L517.5 636.9 L512.6 641.8 L507.7 636.9 Z" fill="#000"/><path d="M505.0 624.4 L509.9 629.3 L505.0 634.2 L500.1 629.3 Z" fill="#000"/><path d="M520.2 624.4 L525.1 629.3 L520.2 634.2 L515.3 629.3 Z" fill="#000"/>
<text x="532.6" y="483.3" font-size="28.5" textLength="369.7" lengthAdjust="spacingAndGlyphs">A população do Brasil está</text>
<text x="532.6" y="521.25" font-size="28.5" textLength="397.7" lengthAdjust="spacingAndGlyphs">envelhecendo, vivendo mais</text>
<text x="532.6" y="557.4" font-size="28.5" textLength="336.9" lengthAdjust="spacingAndGlyphs">e tendo cada vez menos</text>
<text x="532.6" y="596.25" font-size="28.5" textLength="85.1" lengthAdjust="spacingAndGlyphs">filhos.</text>
<text x="532.6" y="641.25" font-size="28.5" textLength="391.3" lengthAdjust="spacingAndGlyphs">Quais são os impactos disso</text>
<text x="532.6" y="679.25" font-size="28.5" textLength="241.5" lengthAdjust="spacingAndGlyphs">hoje e no futuro?</text>
</svg></body></html>
